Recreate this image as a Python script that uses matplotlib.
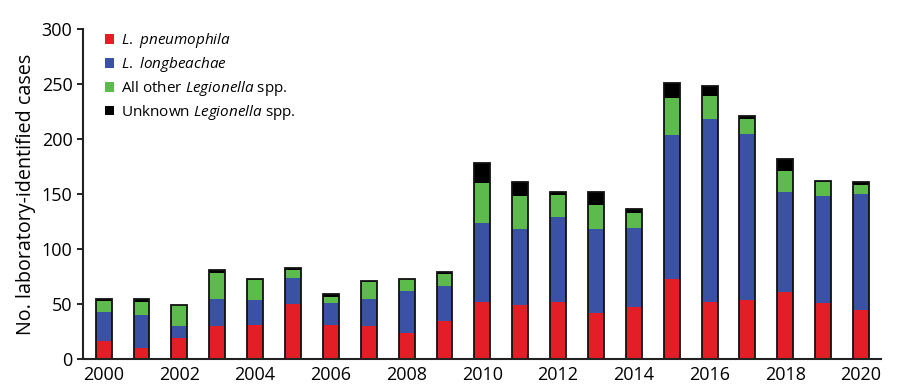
import numpy as np
import matplotlib.pyplot as plt

years = list(range(2000, 2021))
pneumophila = [16, 10, 19, 30, 31, 50, 31, 30, 24, 35, 52, 49, 52, 42, 47, 73, 52, 54, 61, 51, 45]
longbeachae = [27, 30, 11, 25, 23, 24, 20, 25, 38, 31, 72, 69, 77, 76, 72, 131, 166, 151, 91, 97, 105]
other = [10, 12, 19, 23, 18, 7, 5, 15, 11, 11, 36, 30, 20, 22, 14, 33, 21, 13, 19, 13, 8]
unknown = [2, 3, 0, 3, 1, 2, 3, 1, 0, 2, 18, 13, 3, 12, 3, 14, 9, 3, 11, 1, 3]

labels = ['$\\it{L.\\ pneumophila}$', '$\\it{L.\\ longbeachae}$',
          'All other $\\it{Legionella}$ spp.', 'Unknown $\\it{Legionella}$ spp.']
colors = ['#e41e26', '#3b51a3', '#5cbb4c', '#000000']

plt.rcParams['font.family'] = ['Open Sans', 'DejaVu Sans']
plt.rcParams['mathtext.fontset'] = 'custom'
plt.rcParams['mathtext.it'] = 'Open Sans:italic'
plt.rcParams['mathtext.rm'] = 'Open Sans'

fig = plt.figure(figsize=(9, 3.9), dpi=100)
ax = fig.add_axes([0.092, 0.0795, 0.887, 0.846])

w = 0.42
bottom = np.zeros(len(years))
for vals, c, lab in zip([pneumophila, longbeachae, other, unknown], colors, labels):
    ax.bar(years, vals, w, bottom=bottom, color=c, label=lab, linewidth=0)
    bottom += np.array(vals)
ax.bar(years, bottom, w, fill=False, edgecolor='#111111', linewidth=1.3)

ax.set_xlim(1999.45, 2020.53)
ax.set_ylim(0, 300)
ax.set_xticks(range(2000, 2021, 2))
ax.set_yticks(range(0, 301, 50))
ax.tick_params(axis='x', length=0, labelsize=13, pad=5)
ax.tick_params(axis='y', length=4, labelsize=13, width=1.2)
for s in ['top', 'right']:
    ax.spines[s].set_visible(False)
for s in ['left', 'bottom']:
    ax.spines[s].set_linewidth(1.5)
    ax.spines[s].set_color('#222222')
ax.set_ylabel('No. laboratory-identified cases', fontsize=14.2, labelpad=4)

ax.legend(loc='upper left', bbox_to_anchor=(0.011, 1.035), frameon=False, fontsize=11,
          handlelength=0.6, handleheight=0.6, handletextpad=0.4, labelspacing=0.32)

plt.savefig('out.png', dpi=100)
